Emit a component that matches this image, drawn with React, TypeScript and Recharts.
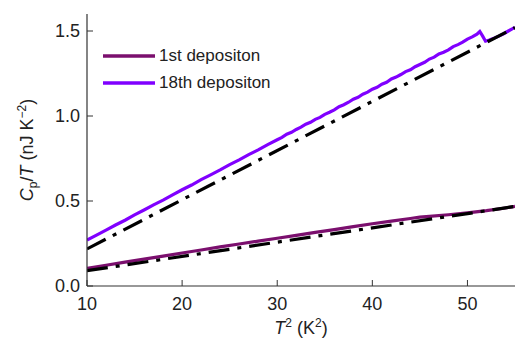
import React from "react";
import { LineChart, Line, XAxis, YAxis, Legend } from "recharts";

// T^2 (K^2) vs Cp/T (nJ K^-2)
const dep18: { x: number; y: number }[] = [
  { x: 10, y: 0.27 }, { x: 11, y: 0.299 }, { x: 12, y: 0.329 }, { x: 13, y: 0.359 },
  { x: 14, y: 0.387 }, { x: 15, y: 0.418 }, { x: 16, y: 0.447 }, { x: 17, y: 0.477 },
  { x: 18, y: 0.505 }, { x: 19, y: 0.536 }, { x: 20, y: 0.566 }, { x: 21, y: 0.594 },
  { x: 22, y: 0.626 }, { x: 23, y: 0.654 }, { x: 24, y: 0.683 }, { x: 25, y: 0.714 },
  { x: 26, y: 0.742 }, { x: 27, y: 0.773 }, { x: 28, y: 0.801 }, { x: 29, y: 0.832 },
  { x: 30, y: 0.86 }, { x: 30.5, y: 0.874 }, { x: 31, y: 0.893 }, { x: 31.5, y: 0.904 },
  { x: 32, y: 0.921 }, { x: 32.5, y: 0.934 }, { x: 33, y: 0.952 }, { x: 33.5, y: 0.963 },
  { x: 34, y: 0.98 }, { x: 34.5, y: 0.992 }, { x: 35, y: 1.01 }, { x: 35.5, y: 1.022 },
  { x: 36, y: 1.036 }, { x: 36.5, y: 1.055 }, { x: 37, y: 1.066 }, { x: 37.5, y: 1.081 },
  { x: 38, y: 1.099 }, { x: 38.5, y: 1.11 }, { x: 39, y: 1.128 }, { x: 39.5, y: 1.14 },
  { x: 40, y: 1.158 }, { x: 40.5, y: 1.169 }, { x: 41, y: 1.187 }, { x: 41.5, y: 1.198 },
  { x: 42, y: 1.218 }, { x: 42.5, y: 1.229 }, { x: 43, y: 1.244 }, { x: 43.5, y: 1.261 },
  { x: 44, y: 1.272 }, { x: 44.5, y: 1.29 }, { x: 45, y: 1.303 }, { x: 45.5, y: 1.316 },
  { x: 46, y: 1.335 }, { x: 46.5, y: 1.346 }, { x: 47, y: 1.365 }, { x: 47.5, y: 1.375 },
  { x: 48, y: 1.389 }, { x: 48.5, y: 1.408 }, { x: 49, y: 1.42 }, { x: 49.5, y: 1.434 },
  { x: 50, y: 1.452 }, { x: 50.5, y: 1.465 }, { x: 51, y: 1.481 }, { x: 51.3, y: 1.497 },
  { x: 51.6, y: 1.47 }, { x: 51.9, y: 1.44 }, { x: 52.3, y: 1.447 }, { x: 52.8, y: 1.458 },
  { x: 53.3, y: 1.47 }, { x: 53.8, y: 1.484 }, { x: 54.3, y: 1.5 }, { x: 54.7, y: 1.512 },
  { x: 55, y: 1.522 },
];

const dep1: { x: number; y: number }[] = [
  { x: 10, y: 0.104 }, { x: 12, y: 0.122 }, { x: 14, y: 0.14 }, { x: 16, y: 0.158 },
  { x: 18, y: 0.176 }, { x: 20, y: 0.194 }, { x: 22, y: 0.212 }, { x: 24, y: 0.23 },
  { x: 26, y: 0.247 }, { x: 28, y: 0.264 }, { x: 30, y: 0.281 }, { x: 32, y: 0.298 },
  { x: 34, y: 0.315 }, { x: 36, y: 0.332 }, { x: 38, y: 0.349 }, { x: 40, y: 0.366 },
  { x: 42, y: 0.382 }, { x: 44, y: 0.397 }, { x: 45, y: 0.405 }, { x: 46, y: 0.41 },
  { x: 48, y: 0.419 }, { x: 50, y: 0.43 }, { x: 52, y: 0.443 }, { x: 54, y: 0.459 },
  { x: 55, y: 0.468 },
];

// dash-dot fits
const fit18 = [{ x: 10, y: 0.218 }, { x: 55, y: 1.52 }];
const fit1 = [{ x: 10, y: 0.09 }, { x: 55, y: 0.468 }];

const xTicks = [10, 20, 30, 40, 50];
const xMinorTicks = [15, 25, 35, 45];
const xTopTicks = [15, 20, 25, 30, 35, 40, 45, 50];
const yTicks = [0, 0.5, 1.0, 1.5];
const yMinorTicks = [0.25, 0.75, 1.25];
const yRightTicks = [0.25, 0.5, 0.75, 1.0, 1.25, 1.5];

const legendItems = [
  { name: "1st depositon", color: "#7b0f6e" },
  { name: "18th depositon", color: "#8000ff" },
];

const font = "'Liberation Sans', Arial, Helvetica, sans-serif";
const axisColor = "#333";

const XTitle = () => (
  <text x={301} y={334} textAnchor="middle" fontSize={18} fill="#222" fontFamily={font}>
    <tspan fontStyle="italic">T</tspan>
    <tspan dy={-7} fontSize={12}>2</tspan>
    <tspan dy={7}> (K</tspan>
    <tspan dy={-7} fontSize={12}>2</tspan>
    <tspan dy={7}>)</tspan>
  </text>
);

const YTitle = () => (
  <text
    x={33}
    y={150}
    transform="rotate(-90 33 150)"
    textAnchor="middle"
    fontSize={18}
    fill="#222"
    fontFamily={font}
  >
    <tspan fontStyle="italic">C</tspan>
    <tspan dy={4} fontSize={12}>p</tspan>
    <tspan dy={-4}>/</tspan>
    <tspan fontStyle="italic">T</tspan>
    <tspan> (nJ K</tspan>
    <tspan dy={-7} fontSize={12}>−2</tspan>
    <tspan dy={7}>)</tspan>
  </text>
);

const LegendBox = () => (
  <div style={{ fontFamily: font, fontSize: 17, color: "#222" }}>
    {legendItems.map((it) => (
      <div key={it.name} style={{ display: "flex", alignItems: "center", height: 27 }}>
        <svg width={52} height={6}>
          <line x1={0} y1={3} x2={52} y2={3} stroke={it.color} strokeWidth={3.5} />
        </svg>
        <span style={{ marginLeft: 4, whiteSpace: "nowrap" }}>{it.name}</span>
      </div>
    ))}
  </div>
);

export default function App() {
  return (
    <div style={{ position: "absolute", left: 0, top: 0, background: "#fff" }}>
      <LineChart width={515} height={339} margin={{ top: 14, right: 0, bottom: 0, left: 0 }}>
        <XAxis
          xAxisId="x"
          type="number"
          dataKey="x"
          domain={[10, 55]}
          allowDataOverflow
          ticks={xTicks}
          height={53}
          tickSize={-6}
          tickMargin={17}
          tick={{ fontSize: 18, fill: "#222", fontFamily: font }}
          axisLine={{ stroke: axisColor, strokeWidth: 1.2 }}
          tickLine={{ stroke: axisColor }}
          label={<XTitle />}
        />
        <XAxis
          xAxisId="xb"
          type="number"
          domain={[10, 55]}
          allowDataOverflow
          ticks={xMinorTicks}
          mirror
          height={0}
          tick={false}
          tickSize={3}
          axisLine={false}
          tickLine={{ stroke: axisColor }}
        />
        <XAxis
          xAxisId="xt"
          orientation="top"
          type="number"
          domain={[10, 55]}
          allowDataOverflow
          ticks={xTopTicks}
          mirror
          height={0}
          tick={false}
          tickSize={5}
          axisLine={{ stroke: axisColor, strokeWidth: 1.2 }}
          tickLine={{ stroke: axisColor }}
        />
        <YAxis
          yAxisId="y"
          type="number"
          domain={[0, 1.6]}
          allowDataOverflow
          ticks={yTicks}
          width={87}
          tickSize={-6}
          tickMargin={13}
          tickFormatter={(v: number) => v.toFixed(1)}
          tick={{ fontSize: 18, fill: "#222", fontFamily: font }}
          axisLine={{ stroke: axisColor, strokeWidth: 1.2 }}
          tickLine={{ stroke: axisColor }}
          label={<YTitle />}
        />
        <YAxis
          yAxisId="yl"
          type="number"
          domain={[0, 1.6]}
          allowDataOverflow
          ticks={yMinorTicks}
          mirror
          width={0}
          tick={false}
          tickSize={3}
          axisLine={false}
          tickLine={{ stroke: axisColor }}
        />
        <YAxis
          yAxisId="yr"
          orientation="right"
          type="number"
          domain={[0, 1.6]}
          allowDataOverflow
          ticks={yRightTicks}
          mirror
          width={0}
          tick={false}
          tickSize={5}
          axisLine={{ stroke: axisColor, strokeWidth: 1.2 }}
          tickLine={{ stroke: axisColor }}
        />
        <Legend
          layout="vertical"
          align="center"
          verticalAlign="middle"
          content={<LegendBox />}
          wrapperStyle={{ position: "absolute", left: 103, top: 42, width: "auto", height: "auto" }}
        />
        <Line
          xAxisId="x"
          yAxisId="y"
          data={dep18}
          dataKey="y"
          name="18th depositon"
          stroke="#8000ff"
          strokeWidth={3.2}
          dot={false}
          type="linear"
          isAnimationActive={false}
        />
        <Line
          xAxisId="x"
          yAxisId="y"
          data={dep1}
          dataKey="y"
          name="1st depositon"
          stroke="#7b0f6e"
          strokeWidth={3.2}
          dot={false}
          type="linear"
          isAnimationActive={false}
        />
        <Line
          xAxisId="x"
          yAxisId="y"
          data={fit18}
          dataKey="y"
          name="fit18"
          legendType="none"
          stroke="#000"
          strokeWidth={3.2}
          strokeDasharray="21 8 4 8"
          dot={false}
          type="linear"
          isAnimationActive={false}
        />
        <Line
          xAxisId="x"
          yAxisId="y"
          data={fit1}
          dataKey="y"
          name="fit1"
          legendType="none"
          stroke="#000"
          strokeWidth={3.2}
          strokeDasharray="21 8 4 8"
          dot={false}
          type="linear"
          isAnimationActive={false}
        />
      </LineChart>
    </div>
  );
}
